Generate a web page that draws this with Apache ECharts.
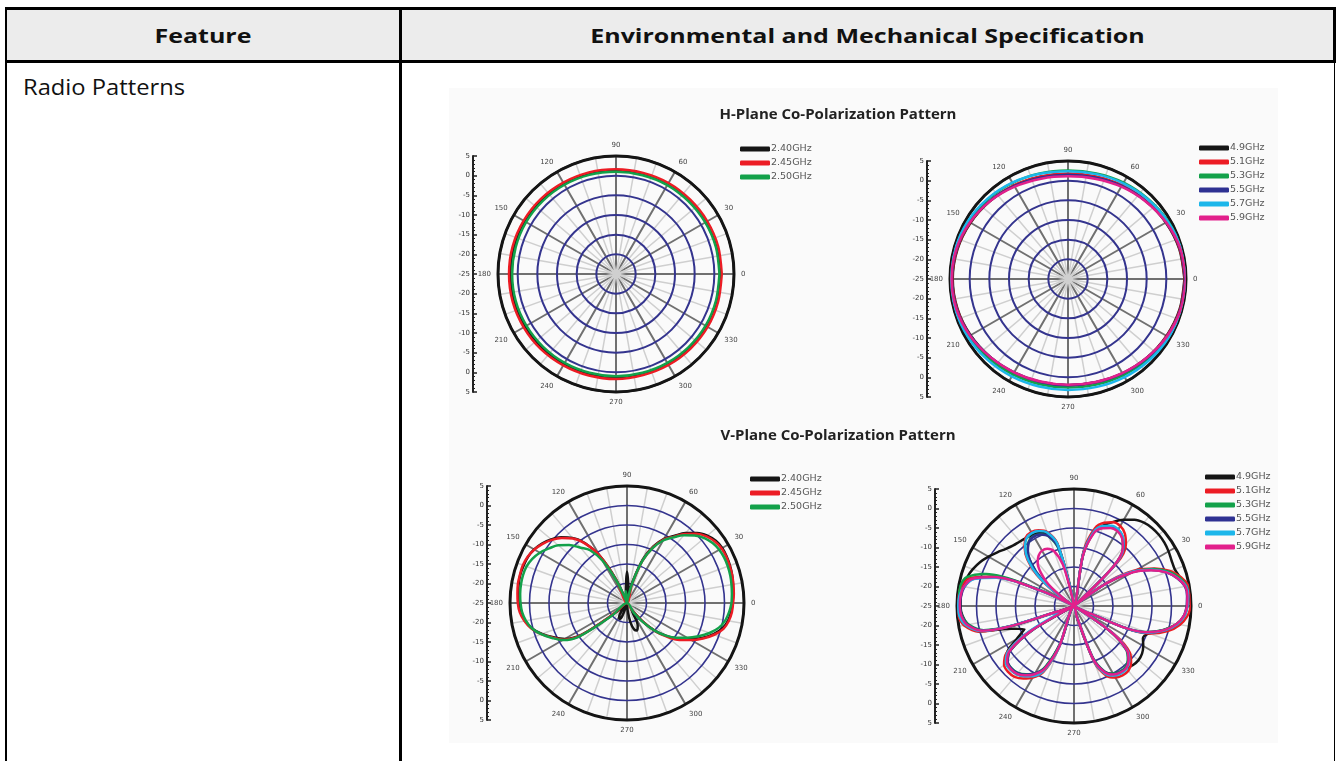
<!DOCTYPE html>
<html>
<head>
<meta charset="utf-8">
<script src="https://cdn.jsdelivr.net/npm/echarts@6/dist/echarts.min.js"></script>
<style>
  html, body { margin: 0; padding: 0; background: #fff; }
  body { width: 1338px; height: 761px; position: relative; overflow: hidden; font-family: "Open Sans", "Noto Sans", sans-serif; color: #111; }
  .hdr { position: absolute; left: 7px; top: 8px; width: 1326px; height: 53px; background: #ececec; }
  .ln { position: absolute; background: #000; }
  .th { position: absolute; top: 9px; height: 53px; line-height: 53px; text-align: center; font-weight: bold; font-size: 20px; transform: scaleX(1.25); transform-origin: center; }
  .td { position: absolute; left: 23px; top: 73px; font-size: 21px; transform: scaleX(1.13); transform-origin: left; }
  .pic { position: absolute; left: 449px; top: 88px; width: 829px; height: 655px; background: #fafafa; }
  #chart { position: absolute; left: 0; top: 0; width: 1338px; height: 761px; }
</style>
</head>
<body>
<div class="hdr"></div>
<div class="ln" style="left:5px;top:7px;width:1331px;height:3px"></div>
<div class="ln" style="left:5px;top:7px;width:2px;height:754px"></div>
<div class="ln" style="left:5px;top:60px;width:1331px;height:3px"></div>
<div class="ln" style="left:399px;top:7px;width:3px;height:754px"></div>
<div class="ln" style="left:1333px;top:7px;width:3px;height:56px"></div>
<div class="ln" style="left:1334px;top:60px;width:1px;height:701px"></div>
<div class="th" style="left:7px;width:392px">Feature</div>
<div class="th" style="left:402px;width:931px">Environmental and Mechanical Specification</div>
<div class="td">Radio Patterns</div>
<div class="pic"></div>
<div id="chart"></div>
<script>
// 采样角度（度）
var ANGLES_H = [0,15,30,45,60,75,90,105,120,135,150,165,180,195,210,225,240,255,270,285,300,315,330,345];
var ANGLES_V = [0,5,10,15,20,25,30,35,40,45,50,55,60,65,70,75,80,85,90,95,100,105,110,115,120,125,130,135,140,145,150,155,160,165,170,175,
                180,185,190,195,200,205,210,215,220,225,230,235,240,245,250,255,260,265,270,275,280,285,290,295,300,305,310,315,320,325,330,335,340,345,350,355];

// 刻度
var SCALE_TICKS = [-30,-25,-20,-15,-10,-5,0,5,10,15,20,25,30];
var RADIUS_TICKS = [-25,-20,-15,-10,-5,0,5];

// 图例名称
var NAMES_24 = ['2.40GHz','2.45GHz','2.50GHz'];
var NAMES_5 = ['4.9GHz','5.1GHz','5.3GHz','5.5GHz','5.7GHz','5.9GHz'];
var TITLES = ['H-Plane Co-Polarization Pattern','V-Plane Co-Polarization Pattern'];

// H面 2.4GHz (dBi)
var h24_240 = [1.5,1.5,1.4,1.4,1.3,1.3,1.3,1.4,1.5,1.6,1.7,1.8,1.8,1.8,1.7,1.6,1.5,1.4,1.4,1.4,1.4,1.5,1.5,1.5];
var h24_245 = [1.9,1.9,1.8,1.7,1.7,1.6,1.6,1.7,1.8,2.0,2.1,2.2,2.2,2.2,2.1,2.0,1.8,1.7,1.7,1.6,1.7,1.8,1.9,1.9];
var h24_250 = [1.3,1.3,1.2,1.1,1.1,1.0,1.0,1.1,1.2,1.3,1.4,1.4,1.4,1.4,1.3,1.2,1.1,1.0,1.0,1.0,1.1,1.2,1.3,1.3];

// H面 5GHz
var h5_49 = [4.6,4.3,3.7,3.0,2.4,1.9,1.7,1.9,2.4,3.0,3.6,4.1,4.3,4.1,3.6,3.0,2.5,2.1,2.0,2.2,2.7,3.3,3.9,4.4];
var h5_51 = [4.7,4.4,3.8,3.1,2.5,2.0,1.8,2.0,2.5,3.1,3.7,4.2,4.4,4.2,3.7,3.1,2.6,2.2,2.1,2.3,2.8,3.4,4.0,4.5];
var h5_53 = [5.0,4.8,4.4,3.8,3.3,2.8,2.6,2.8,3.2,3.7,4.2,4.5,4.6,4.4,4.0,3.5,3.0,2.7,2.6,2.8,3.2,3.8,4.4,4.8];
var h5_55 = [4.8,4.5,3.8,3.0,2.3,1.7,1.5,1.7,2.3,3.1,3.8,4.3,4.5,4.3,3.7,3.0,2.4,2.1,2.0,2.2,2.7,3.4,4.1,4.6];
var h5_57 = [5.0,4.8,4.3,3.7,3.1,2.6,2.4,2.7,3.3,3.9,4.4,4.7,4.8,4.7,4.4,4.0,3.6,3.3,3.2,3.4,3.8,4.2,4.6,4.9];
var h5_59 = [5.0,4.6,3.8,2.9,2.1,1.4,1.1,1.4,2.1,3.0,3.8,4.4,4.6,4.4,3.8,3.0,2.4,2.0,1.9,2.1,2.6,3.3,4.1,4.7];

// V面 2.4GHz
var v24_240 = [2.0,2.3,2.6,2.9,3.1,3.2,3.2,2.8,1.9,0.4,-1.6,-4.0,-6.0,-9.0,-13,-19,-23,-21,-17,-22,-25,-25,-25,-18,-11,-6.3,-3.2,-1.2,0.4,1.6,2.5,3.0,3.2,3.3,3.2,3.0,
               2.8,2.3,1.5,0.2,-1.8,-4.2,-6.6,-11,-21,-25,-25,-23,-21,-20.5,-21.5,-24,-25,-25,-25,-23,-20,-18,-17.5,-18.5,-22,-23,-19,-15,-12,-9,-6.4,-3.8,-1.5,0.3,1.3,1.8];
var v24_245 = [2.2,2.5,2.7,2.9,3.0,3.1,3.0,2.5,1.6,0.1,-1.9,-4.3,-6.2,-9.3,-13.5,-20,-25,-25,-25,-25,-25,-25,-25,-18.5,-11,-6.5,-3.4,-1.4,0.2,1.4,2.4,3.1,3.4,3.4,3.4,3.2,
               3.0,2.6,1.7,0.4,-1.6,-4.0,-6.2,-10.5,-21.7,-25,-25,-25,-25,-25,-25,-25,-25,-25,-25,-25,-25,-25,-25,-25,-25,-23,-19,-14.8,-11.5,-8.5,-6.0,-3.5,-1.2,0.6,1.5,2.0];
var v24_250 = [1.8,2.0,2.2,2.4,2.5,2.5,2.3,1.8,0.9,-0.5,-2.3,-4.5,-6.5,-9.5,-13.5,-19.5,-24,-25,-25,-22,-23,-25,-25,-19,-12.5,-8.5,-6.5,-4.0,-2.0,-0.6,0.8,1.8,2.4,2.6,2.6,2.5,
               2.3,2.0,1.3,0.2,-1.6,-3.8,-6.0,-10,-20,-25,-25,-25,-25,-25,-25,-25,-25,-25,-25,-25,-25,-25,-25,-25,-25,-22,-18.5,-15,-12,-9.5,-7.2,-4.8,-2.5,-0.6,0.6,1.3];

// V面 5GHz
var v5_49 = [4.1,4.3,4.1,3.2,2.5,2.6,3.0,3.3,3.4,3.3,2.9,2.0,0.5,-1.2,-3.0,-5.3,-11.5,-25,-25,-25,-21,-8.5,-5.3,-4.3,-3.9,-3.7,-3.4,-3.0,-2.2,-1.0,0.3,1.6,2.6,3.4,3.9,4.1,
             4.1,3.7,2.6,0.2,-8,-11,-8,-4.0,-2.4,-2.0,-2.2,-3.1,-4.6,-7.5,-15,-25,-25,-25,-25,-25,-25,-21,-10,-6.3,-4.9,-4.4,-4.1,-3.6,-3.4,-3.7,-4.5,-5.5,-4.5,-1.2,1.8,3.4];
var v5_51 = [5.0,5.0,4.8,3.4,1.2,-2.2,-6.5,-13.5,-25,-9.5,-4.3,-2.3,-1.3,-1.3,-2.3,-4.4,-10.5,-25,-25,-25,-21.5,-8.3,-4.8,-3.6,-3.1,-3.5,-5.3,-8.1,-12.5,-19.5,-25,-16.5,-2.8,2.6,4.4,4.9,
             5.0,4.8,3.6,0.2,-21,-25,-11.5,-3.8,-1.6,-1.1,-1.3,-2.3,-3.8,-6.3,-13.5,-25,-25,-25,-25,-25,-25,-21.5,-9.3,-5.3,-3.8,-3.3,-3.3,-4.3,-6.3,-12.5,-25,-19.5,-4.3,-0.1,2.6,4.2];
var v5_53 = [4.0,4.3,4.3,3.0,0.8,-2.5,-7.5,-15,-25,-11,-5.5,-3.5,-2.5,-2.6,-3.6,-5.5,-12,-25,-25,-25,-22,-10,-6.0,-4.8,-4.3,-4.8,-6.5,-9.5,-14,-21,-25,-14,-1,3.5,4.6,4.6,
             4.3,3.8,2.4,-1,-22,-25,-13,-5,-2.8,-2.4,-2.6,-3.6,-5,-8,-15,-25,-25,-25,-25,-25,-25,-22,-11,-6.5,-5,-4.5,-4.5,-5.5,-7.5,-14,-25,-20,-5.5,-1.2,1.7,3.4];
var v5_55 = [3.9,4.1,3.9,2.4,0.2,-3.2,-7.5,-15,-25,-10.5,-5.2,-3.3,-2.4,-2.5,-3.4,-5.3,-11.5,-25,-25,-25,-22,-9.5,-6.0,-4.8,-4.4,-4.9,-6.6,-9.5,-14,-21,-25,-16,-3.5,1.8,3.5,4.1,
             4.2,3.9,2.7,-0.8,-22,-25,-12.5,-5,-2.8,-2.3,-2.5,-3.5,-5,-7.5,-14.5,-25,-25,-25,-25,-25,-25,-22,-10.5,-6.3,-4.8,-4.3,-4.3,-5.3,-7.3,-13.5,-25,-20,-5.2,-1.0,1.8,3.3];
var v5_57 = [4.1,4.4,4.2,2.6,0.3,-3.0,-7.2,-14.5,-25,-10.5,-5.3,-3.2,-2.3,-2.3,-3.2,-5.2,-11.5,-25,-25,-25,-21.5,-8.5,-5.0,-3.8,-3.4,-3.8,-5.5,-8.4,-13,-20,-25,-16.5,-3.8,1.6,3.6,4.5,
             4.8,4.5,3.2,-0.2,-20,-22,-11,-4.2,-2.2,-1.9,-2.1,-3.0,-4.3,-6.8,-13.5,-25,-25,-25,-25,-25,-25,-22,-9.8,-5.8,-4.4,-3.9,-4.0,-5.0,-7.0,-13,-25,-20,-5,-0.9,1.9,3.5];
var v5_59 = [4.0,4.2,4.0,2.5,0.2,-3.3,-7.8,-15,-25,-11,-5.5,-3.6,-2.8,-2.9,-3.8,-5.8,-12,-25,-25,-25,-23,-14,-10,-8.8,-8.6,-9.2,-10.5,-13,-16.5,-22,-25,-16,-3.2,2.0,3.7,4.2,
             4.3,4.0,2.8,-0.6,-22,-25,-12.5,-4.8,-2.6,-2.1,-2.3,-3.3,-4.8,-7.3,-14,-25,-25,-25,-25,-25,-25,-22,-10.3,-6.2,-4.7,-4.2,-4.2,-5.2,-7.2,-13.5,-25,-20.5,-5.4,-1.1,1.7,3.3];

var COLORS = ['#151515','#ec1c24','#13a14a','#2e3192','#1cb6ea','#e2208b'];

// 四个小图的位置
var PLOTS = [
    {cx: 616, cy: 274, r: 118, sx: 473, lx: 740, ly: 144, ring: 2},
    {cx: 1068, cy: 279, r: 118, sx: 927, lx: 1199, ly: 143, ring: 2},
    {cx: 627, cy: 603, r: 117, sx: 487, lx: 750, ly: 474, ring: 1.6},
    {cx: 1074, cy: 606, r: 117, sx: 935, lx: 1205, ly: 472, ring: 1.6}
];

var GROUPS = [
    {angles: ANGLES_H, names: NAMES_24, values: [h24_240, h24_245, h24_250], smooth: 0.3},
    {angles: ANGLES_H, names: NAMES_5, values: [h5_49, h5_51, h5_53, h5_55, h5_57, h5_59], smooth: 0.3},
    {angles: ANGLES_V, names: NAMES_24, values: [v24_240, v24_245, v24_250], smooth: 0.35},
    {angles: ANGLES_V, names: NAMES_5, values: [v5_49, v5_51, v5_53, v5_55, v5_57, v5_59], smooth: 0.3}
];

var ringColors = RADIUS_TICKS.map(function(t, i){ return i == RADIUS_TICKS.length - 1 ? '#151515' : '#34348e'; });

var polar = [], angleAxis = [], radiusAxis = [], grid = [], xAxis = [], yAxis = [], legend = [], series = [];

PLOTS.forEach(function(p, k){
    polar.push({center: [p.cx, p.cy], radius: p.r});
    angleAxis.push({
        polarIndex: k, type: 'value', min: 0, max: 360, interval: 30,
        startAngle: 0, clockwise: false, z: 1,
        axisLine: {lineStyle: {color: '#151515', width: 3}},
        axisTick: {show: false},
        axisLabel: {
            fontSize: 7, fontFamily: 'DejaVu Sans', color: '#444', margin: 7,
            formatter: function(v){ return v == 360 ? '' : String(v); }
        },
        splitLine: {lineStyle: {color: '#707070', width: 2}},
        minorTick: {show: false, splitNumber: 3},
        minorSplitLine: {show: true, lineStyle: {color: '#cfcfcf', width: 1.5}}
    });
    radiusAxis.push({
        polarIndex: k, type: 'value', min: RADIUS_TICKS[0], max: RADIUS_TICKS[RADIUS_TICKS.length - 1], interval: 5, z: 2,
        axisLine: {show: false}, axisTick: {show: false}, axisLabel: {show: false},
        splitLine: {lineStyle: {color: ringColors, width: p.ring}}
    });

    // 左侧刻度尺
    grid.push({left: p.sx, top: p.cy - p.r, width: 10, height: p.r * 2});
    xAxis.push({gridIndex: k, type: 'value', show: false});
    yAxis.push({
        gridIndex: k, type: 'value', position: 'left',
        min: SCALE_TICKS[0], max: SCALE_TICKS[SCALE_TICKS.length - 1], interval: 5,
        axisLine: {show: true, lineStyle: {color: '#222', width: 2}},
        axisTick: {show: true, inside: true, length: 4, lineStyle: {color: '#222', width: 1.5}},
        minorTick: {show: true, splitNumber: 5, length: 2, lineStyle: {color: '#222', width: 1}},
        axisLabel: {
            fontSize: 7, fontFamily: 'DejaVu Sans', color: '#333', margin: 3,
            formatter: function(v){ return String(Math.abs(v) - 25); }
        },
        splitLine: {show: false}
    });

    var g = GROUPS[k];
    legend.push({
        data: g.names, orient: 'vertical', left: p.lx, top: p.ly, padding: 0,
        itemWidth: 30, itemHeight: 5, itemGap: 4, icon: 'roundRect', selectedMode: false,
        textStyle: {fontSize: 9.5, lineHeight: 9, fontFamily: 'DejaVu Sans', color: '#555', padding: [0, 0, 0, -4]}
    });

    g.values.forEach(function(vals, j){
        var data = vals.map(function(v, i){ return [v, g.angles[i]]; });
        data.push([vals[0], 360]);
        series.push({
            type: 'line', coordinateSystem: 'polar', polarIndex: k,
            name: g.names[j], data: data,
            showSymbol: false, symbol: 'none', smooth: g.smooth,
            lineStyle: {color: COLORS[j], width: 2.5},
            itemStyle: {color: COLORS[j]},
            z: 3
        });
    });
});

var chart = echarts.init(document.getElementById('chart'));
chart.setOption({
    animation: false,
    title: [
        {text: TITLES[0], left: 838, top: 107, textAlign: 'center', padding: 0,
         textStyle: {fontFamily: 'Open Sans', fontWeight: 'bold', fontSize: 15, color: '#222'}},
        {text: TITLES[1], left: 838, top: 428, textAlign: 'center', padding: 0,
         textStyle: {fontFamily: 'Open Sans', fontWeight: 'bold', fontSize: 15, color: '#222'}}
    ],
    polar: polar,
    angleAxis: angleAxis,
    radiusAxis: radiusAxis,
    grid: grid,
    xAxis: xAxis,
    yAxis: yAxis,
    legend: legend,
    series: series
});
</script>
</body>
</html>
